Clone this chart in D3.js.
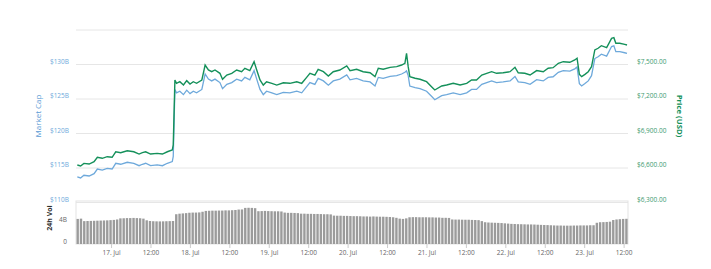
<!DOCTYPE html>
<html>
<head>
<meta charset="utf-8">
<script src="https://cdn.jsdelivr.net/npm/d3@7"></script>
<style>
  body { margin: 0; background: #fff; }
  text { font-family: "Open Sans", sans-serif; }
</style>
</head>
<body>
<script>
// hours after 16 Jul 13:20 for each reading
var hours = [0.4, 1.4, 2.4, 4.0, 5.5, 6.5, 8.0, 9.5, 11.0, 12.1, 13.6, 15.6, 17.6, 19.2, 20.2, 21.2, 22.7, 24.7, 26.3, 27.8,
  29.3, 29.6, 30.1, 30.6, 31.6, 32.7, 33.7, 34.7, 35.7, 36.7, 38.3, 39.3, 40.3, 41.3, 42.3, 43.8, 44.6, 45.9, 47.4, 48.9,
  50.4, 51.4, 52.9, 54.2, 55.0, 56.0, 57.0, 58.0, 59.6, 61.1, 63.1, 65.1, 67.2, 68.7, 70.2, 71.2, 72.7, 73.7, 75.3, 76.8,
  78.3, 80.3, 82.4, 83.4, 85.4, 87.4, 89.5, 91.0, 92.0, 93.5, 95.6, 97.6, 99.1, 100.1, 100.6, 101.1, 101.6, 103.2, 104.7, 106.7,
  108.2, 109.2, 111.3, 112.8, 114.8, 116.9, 118.9, 120.4, 121.9, 123.5, 125.0, 126.5, 128.0, 130.0, 132.1, 133.6, 134.6, 136.6, 138.2, 140.2,
  142.2, 143.7, 145.2, 146.8, 148.3, 150.3, 151.8, 152.5, 153.2, 153.9, 154.9, 155.9, 156.9, 157.9, 158.9, 159.9, 161.5, 163.0, 163.7, 164.3,
  165.5, 167.0, 167.7];

// Price (USD)
var price = [6622, 6613, 6636, 6630, 6650, 6689, 6680, 6694, 6689, 6737, 6729, 6746, 6737, 6717, 6729, 6737, 6717, 6723, 6717, 6737,
  6752, 6796, 7361, 7332, 7346, 7317, 7355, 7326, 7346, 7332, 7361, 7491, 7448, 7433, 7448, 7419, 7367, 7404, 7419, 7448,
  7433, 7463, 7442, 7520, 7448, 7361, 7317, 7346, 7332, 7317, 7337, 7332, 7346, 7332, 7384, 7419, 7404, 7454, 7433, 7396,
  7433, 7448, 7483, 7442, 7454, 7433, 7424, 7390, 7463, 7454, 7471, 7477, 7491, 7506, 7593, 7477, 7390, 7376, 7367, 7346,
  7303, 7274, 7309, 7317, 7332, 7317, 7332, 7361, 7361, 7404, 7419, 7433, 7419, 7424, 7433, 7471, 7424, 7419, 7404, 7443,
  7433, 7463, 7468, 7506, 7520, 7515, 7535, 7550, 7410, 7390, 7410, 7433, 7477, 7622, 7637, 7659, 7642, 7723, 7729, 7680,
  7680, 7671, 7665];

// Market cap (billion USD)
var marketCap = [113.63, 113.48, 113.87, 113.77, 114.11, 114.78, 114.63, 114.87, 114.78, 115.61, 115.47, 115.76, 115.61, 115.26, 115.47, 115.61, 115.26, 115.37, 115.26, 115.61,
  115.86, 116.62, 126.31, 125.82, 126.06, 125.56, 126.21, 125.71, 126.06, 125.82, 126.31, 128.55, 127.81, 127.55, 127.81, 127.31, 126.42, 127.05, 127.31, 127.81,
  127.55, 128.06, 127.70, 129.04, 127.81, 126.31, 125.56, 126.06, 125.82, 125.56, 125.90, 125.82, 126.06, 125.82, 126.71, 127.31, 127.05, 127.91, 127.55, 126.92,
  127.55, 127.81, 128.41, 127.70, 127.91, 127.55, 127.40, 126.81, 128.06, 127.91, 128.20, 128.31, 128.55, 128.80, 129.00, 128.31, 126.81, 126.57, 126.42, 126.06,
  125.32, 124.82, 125.42, 125.56, 125.82, 125.56, 125.82, 126.31, 126.31, 127.05, 127.31, 127.55, 127.31, 127.40, 127.55, 128.20, 127.40, 127.31, 127.05, 127.72,
  127.55, 128.06, 128.15, 128.80, 129.04, 128.96, 129.30, 129.56, 127.16, 126.81, 127.16, 127.55, 128.31, 130.79, 131.05, 131.43, 131.14, 132.53, 132.63, 131.79,
  131.79, 131.63, 131.53];

// 24h volume (billion USD), one bar per hour
var volume = [4.55, 4.6, 4.15, 4.17, 4.19, 4.21, 4.23, 4.25, 4.27, 4.29, 4.33, 4.37,
  4.45, 4.65, 4.67, 4.7, 4.7, 4.73, 4.7, 4.67, 4.6, 4.3, 4.17, 4.13,
  4.11, 4.1, 4.11, 4.13, 4.15, 4.17, 5.4, 5.5, 5.55, 5.6, 5.67, 5.7,
  5.7, 5.73, 5.85, 6.0, 6.03, 6.05, 6.05, 6.07, 6.07, 6.1, 6.1, 6.13,
  6.17, 6.25, 6.27, 6.55, 6.57, 6.55, 6.5, 5.95, 5.97, 6.0, 5.97, 5.95,
  5.93, 5.93, 5.9, 5.7, 5.65, 5.65, 5.63, 5.6, 5.5, 5.5, 5.47, 5.47,
  5.45, 5.45, 5.43, 5.4, 5.4, 5.37, 5.15, 5.13, 5.13, 5.1, 5.1, 5.07,
  5.05, 5.05, 5.03, 5.0, 5.0, 4.97, 5.0, 4.97, 4.95, 4.95, 4.93, 4.9,
  4.85, 4.75, 4.6, 4.55, 4.65, 4.85, 4.87, 4.87, 4.85, 4.85, 4.85, 4.83,
  4.83, 4.8, 4.8, 4.75, 4.75, 4.73, 4.45, 4.43, 4.43, 4.41, 4.4, 4.4,
  4.37, 4.35, 4.33, 4.15, 3.95, 3.9, 3.87, 3.85, 3.83, 3.8, 3.75, 3.7,
  3.65, 3.63, 3.6, 3.59, 3.57, 3.55, 3.55, 3.53, 3.5, 3.47, 3.45, 3.43,
  3.4, 3.37, 3.35, 3.35, 3.33, 3.33, 3.33, 3.35, 3.35, 3.37, 3.37, 3.37,
  3.4, 3.4, 3.85, 3.95, 3.97, 4.0, 4.05, 4.35, 4.45, 4.5, 4.55, 4.57];

var capTicks = [110, 115, 120, 125, 130];
var priceTicks = [6300, 6600, 6900, 7200, 7500];
var volTicks = [0, 4];

var W = 711, H = 269;
var plotLeft = 76, plotRight = 628, plotTop = 29.5, plotBottom = 202;
var volTop = 201, volBottom = 244;

var blue = "#6ea9db", green = "#14905a";

var start = new Date(2018, 6, 16, 13, 20);
var hourMs = 3600 * 1000;
function at(h) { return new Date(start.getTime() + h * hourMs); }

var x = d3.scaleTime().domain([start, at(168)]).range([plotLeft, plotRight]);
var yCap = d3.scaleLinear().domain([110, 135]).range([plotBottom, plotTop]);
var yPrice = d3.scaleLinear().domain([6300, 7800]).range([plotBottom, plotTop]);
var yVol = d3.scaleLinear().domain([0, 7.8]).range([volBottom, volTop]);

var svg = d3.select("body").append("svg")
    .attr("width", W)
    .attr("height", H);

// grid lines
var grid = svg.append("g")
    .attr("transform", "translate(" + plotLeft + ",0)")
    .call(d3.axisLeft(yCap).tickValues([110, 115, 120, 125, 130, 135]).tickSize(-(plotRight - plotLeft)).tickFormat(""));
grid.select(".domain").remove();
grid.selectAll("line").attr("stroke", "#e6e6e6");

// left axis labels (market cap)
var capAxis = svg.append("g")
    .attr("transform", "translate(" + plotLeft + ",0)")
    .call(d3.axisLeft(yCap).tickValues(capTicks).tickSize(0).tickPadding(7)
      .tickFormat(function(d) { return "$" + d + "B"; }));
capAxis.select(".domain").remove();
capAxis.selectAll("text").attr("y", -3).attr("fill", blue).style("font-size", "6.5px");

// right axis labels (price)
var priceAxis = svg.append("g")
    .attr("transform", "translate(" + plotRight + ",0)")
    .call(d3.axisRight(yPrice).tickValues(priceTicks).tickSize(0).tickPadding(9)
      .tickFormat(d3.format("$,.2f")));
priceAxis.select(".domain").remove();
priceAxis.selectAll("text").attr("y", -3).attr("fill", "#3e9a70").style("font-size", "6.5px");

// axis titles
svg.append("text")
    .attr("transform", "translate(41,116) rotate(-90)")
    .attr("text-anchor", "middle")
    .attr("fill", "#5b9bd5")
    .style("font-size", "8px")
    .text("Market Cap");

svg.append("text")
    .attr("transform", "translate(677,116) rotate(90)")
    .attr("text-anchor", "middle")
    .attr("fill", green)
    .style("font-size", "7.8px")
    .style("font-weight", "bold")
    .text("Price (USD)");

// volume panel
svg.append("rect")
    .attr("x", plotLeft).attr("y", volTop)
    .attr("width", plotRight - plotLeft).attr("height", volBottom - volTop)
    .attr("fill", "none")
    .attr("stroke", "#e3e3e3");

var step = x(at(1)) - x(at(0));
svg.selectAll(".bar")
    .data(volume)
  .enter().append("rect")
    .attr("class", "bar")
    .attr("x", function(d, i) { return x(at(i)) + 0.5; })
    .attr("width", step - 0.9)
    .attr("y", function(d) { return yVol(d); })
    .attr("height", function(d) { return volBottom - yVol(d); })
    .attr("fill", "#9b9b9b");

var volAxis = svg.append("g")
    .attr("transform", "translate(" + plotLeft + ",0)")
    .call(d3.axisLeft(yVol).tickValues(volTicks).tickSize(0).tickPadding(9)
      .tickFormat(function(d) { return d ? d + "B" : "0"; }));
volAxis.select(".domain").remove();
volAxis.selectAll("text").attr("y", -3).attr("fill", "#666").style("font-size", "6.5px");

svg.append("text")
    .attr("transform", "translate(52,218) rotate(-90)")
    .attr("text-anchor", "middle")
    .attr("fill", "#333")
    .style("font-size", "7px")
    .style("font-weight", "bold")
    .text("24h Vol");

// time axis
var fmtDay = d3.timeFormat("%-d. %b"), fmtHour = d3.timeFormat("%H:%M");
var xAxis = svg.append("g")
    .attr("transform", "translate(0," + volBottom + ")")
    .call(d3.axisBottom(x).ticks(d3.timeHour.every(12)).tickSize(4).tickPadding(2)
      .tickFormat(function(d) { return d.getHours() === 0 ? fmtDay(d) : fmtHour(d); }));
xAxis.select(".domain").remove();
xAxis.selectAll("line").attr("stroke", "#ccc");
xAxis.selectAll("text").attr("fill", "#666").style("font-size", "6.5px");

// lines
var capLine = d3.line()
    .x(function(d, i) { return x(at(hours[i])); })
    .y(function(d) { return yCap(d); });

var priceLine = d3.line()
    .x(function(d, i) { return x(at(hours[i])); })
    .y(function(d) { return yPrice(d); });

svg.append("path")
    .datum(marketCap)
    .attr("d", capLine)
    .attr("fill", "none")
    .attr("stroke", blue)
    .attr("stroke-width", 1.3);

svg.append("path")
    .datum(price)
    .attr("d", priceLine)
    .attr("fill", "none")
    .attr("stroke", green)
    .attr("stroke-width", 1.4);
</script>
</body>
</html>
